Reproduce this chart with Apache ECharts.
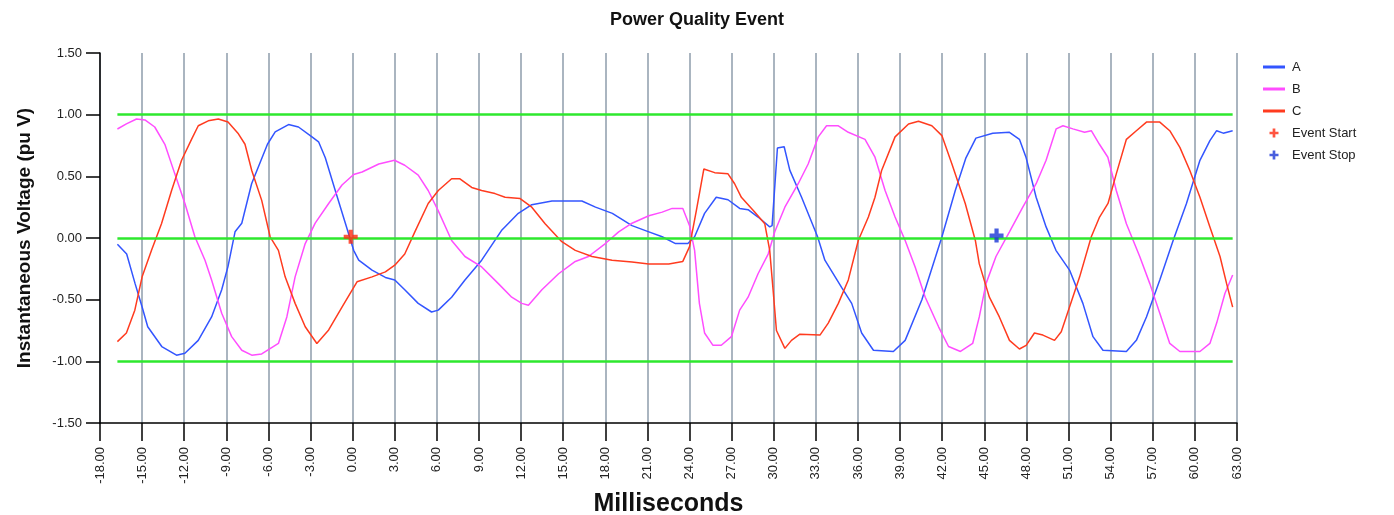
<!DOCTYPE html>
<html>
<head>
<meta charset="utf-8">
<title>Power Quality Event</title>
<script src="https://cdn.jsdelivr.net/npm/echarts@6/dist/echarts.min.js"></script>
<style>
  html, body { margin: 0; padding: 0; background: #fff; }
  #chart { width: 1394px; height: 515px; }
</style>
</head>
<body>
<div id="chart"></div>
<script>
// [milliseconds, pu V]
const phaseA = [
  [-16.76, -0.05], [-16.1, -0.13], [-15.5, -0.37], [-15, -0.56], [-14.6, -0.72], [-13.6, -0.88],
  [-12.55, -0.95], [-11.95, -0.935], [-11, -0.83], [-10.05, -0.64], [-9.33, -0.42], [-8.88, -0.23],
  [-8.38, 0.05], [-7.9, 0.12], [-7.2, 0.44], [-6.07, 0.76], [-5.52, 0.86], [-4.57, 0.92],
  [-3.86, 0.9], [-2.9, 0.82], [-2.43, 0.78], [-1.95, 0.65], [-1.24, 0.385], [-0.52, 0.12],
  [0.07, -0.1], [0.43, -0.18], [1.38, -0.26], [2.33, -0.32], [3, -0.34], [3.71, -0.42],
  [4.67, -0.53], [5.62, -0.6], [6.1, -0.585], [7.05, -0.48], [8, -0.34], [9.19, -0.18],
  [10.6, 0.06], [11.8, 0.2], [12.76, 0.27], [14.2, 0.3], [16.33, 0.3], [17.3, 0.25],
  [18.5, 0.2], [19.9, 0.1], [21.1, 0.05], [22.05, 0.01], [23, -0.045], [23.88, -0.045],
  [24.36, 0.01], [25.07, 0.2], [25.9, 0.33], [26.74, 0.31], [27.57, 0.24], [28.17, 0.23],
  [28.88, 0.17], [29.71, 0.09], [29.88, 0.1], [30.26, 0.73], [30.74, 0.74], [31.14, 0.55],
  [31.98, 0.33], [33.12, 0.01], [33.64, -0.18], [34.83, -0.4], [35.55, -0.53], [36.26, -0.77],
  [37.1, -0.91], [38.52, -0.92], [39.36, -0.83], [40.55, -0.5], [41.98, 0.01], [42.93, 0.385],
  [43.69, 0.65], [44.4, 0.81], [45.6, 0.85], [46.79, 0.857], [47.5, 0.8], [47.98, 0.65],
  [48.69, 0.33], [49.4, 0.09], [50.1, -0.1], [51.07, -0.26], [52.02, -0.53], [52.74, -0.8],
  [53.45, -0.91], [55.12, -0.92], [55.83, -0.83], [56.55, -0.64], [57.5, -0.34], [58.45, -0.02],
  [59.4, 0.28], [60.36, 0.63], [61.07, 0.79], [61.55, 0.87], [62.02, 0.85], [62.69, 0.87]
];

const phaseB = [
  [-16.76, 0.884], [-16.12, 0.925], [-15.4, 0.965], [-14.8, 0.957], [-14.1, 0.9], [-13.38, 0.76],
  [-12.67, 0.52], [-11.95, 0.28], [-11.24, 0.01], [-10.52, -0.18], [-10.05, -0.34], [-9.33, -0.61],
  [-8.62, -0.8], [-7.9, -0.91], [-7.19, -0.95], [-6.48, -0.94], [-5.29, -0.855], [-4.69, -0.64],
  [-4.1, -0.315], [-3.38, -0.045], [-2.67, 0.12], [-1.71, 0.28], [-0.76, 0.43], [0.07, 0.515],
  [0.67, 0.535], [1.86, 0.6], [2.98, 0.63], [3.71, 0.59], [4.67, 0.51], [5.38, 0.385],
  [6.1, 0.22], [7.05, -0.02], [8, -0.15], [9.19, -0.235], [10.38, -0.37], [11.33, -0.48],
  [12.05, -0.53], [12.52, -0.545], [13.48, -0.42], [14.67, -0.29], [15.86, -0.19], [16.8, -0.15],
  [18, -0.045], [18.95, 0.05], [19.9, 0.12], [21.1, 0.18], [22.05, 0.21], [22.76, 0.24],
  [23.52, 0.24], [24, 0.1], [24.36, -0.1], [24.7, -0.53], [25.07, -0.77], [25.67, -0.87],
  [26.26, -0.87], [26.98, -0.8], [27.57, -0.585], [28.17, -0.48], [28.88, -0.29], [29.6, -0.13],
  [30.07, 0.05], [30.79, 0.25], [31.74, 0.44], [32.45, 0.6], [33.17, 0.82], [33.76, 0.91],
  [34.6, 0.91], [35.31, 0.857], [36.5, 0.8], [37.21, 0.655], [37.93, 0.385], [38.64, 0.17],
  [39.36, -0.02], [40.07, -0.235], [40.79, -0.48], [41.74, -0.72], [42.45, -0.88], [43.3, -0.92],
  [44.17, -0.855], [44.64, -0.64], [45.12, -0.37], [45.83, -0.15], [46.79, 0.05], [47.74, 0.25],
  [48.69, 0.44], [49.4, 0.63], [50.12, 0.885], [50.6, 0.91], [51.31, 0.885], [52.14, 0.857],
  [52.62, 0.87], [53.2, 0.76], [53.8, 0.655], [54.4, 0.385], [55.12, 0.115], [56.07, -0.15],
  [56.79, -0.37], [57.5, -0.61], [58.21, -0.855], [58.93, -0.92], [60.36, -0.92], [61.07, -0.855],
  [61.55, -0.69], [62.14, -0.45], [62.69, -0.3]
];

const phaseC = [
  [-16.76, -0.84], [-16.12, -0.77], [-15.52, -0.585], [-15, -0.315], [-14.33, -0.1], [-13.62, 0.115],
  [-12.9, 0.385], [-12.19, 0.63], [-11.48, 0.8], [-11, 0.91], [-10.29, 0.95], [-9.57, 0.965],
  [-8.88, 0.94], [-8.14, 0.845], [-7.67, 0.76], [-7.19, 0.547], [-6.48, 0.305], [-5.88, 0.01],
  [-5.29, -0.1], [-4.81, -0.315], [-4.1, -0.53], [-3.38, -0.72], [-2.55, -0.855], [-1.71, -0.745],
  [-0.76, -0.56], [0.31, -0.355], [1.38, -0.315], [2.33, -0.275], [3, -0.22], [3.71, -0.13],
  [4.43, 0.05], [5.38, 0.28], [6.1, 0.385], [7.05, 0.48], [7.64, 0.48], [8.48, 0.41],
  [9.19, 0.385], [10.14, 0.36], [10.86, 0.33], [11.93, 0.32], [12.76, 0.25], [13.71, 0.115],
  [14.9, -0.03], [15.86, -0.1], [17.05, -0.15], [18.48, -0.18], [19.9, -0.195], [21.1, -0.21],
  [22.52, -0.21], [23.52, -0.19], [24, -0.07], [24.48, 0.22], [25.02, 0.56], [25.79, 0.53],
  [26.74, 0.52], [27.21, 0.44], [27.69, 0.33], [28.64, 0.21], [29.36, 0.115], [29.71, -0.1],
  [29.95, -0.42], [30.19, -0.75], [30.79, -0.895], [31.26, -0.83], [31.86, -0.78], [33.29, -0.787],
  [33.88, -0.69], [34.6, -0.53], [35.31, -0.34], [36.02, -0.02], [36.74, 0.17], [37.21, 0.33],
  [37.69, 0.55], [38.64, 0.82], [39.6, 0.925], [40.31, 0.946], [41.26, 0.91], [41.98, 0.83],
  [42.69, 0.6], [43.64, 0.28], [44.36, -0.02], [44.64, -0.21], [45.36, -0.48], [46.07, -0.64],
  [46.79, -0.83], [47.5, -0.9], [47.98, -0.87], [48.57, -0.77], [49.17, -0.787], [50, -0.83],
  [50.48, -0.76], [51.07, -0.56], [51.79, -0.315], [52.62, 0.01], [53.21, 0.17], [53.81, 0.28],
  [54.4, 0.52], [55.12, 0.8], [55.83, 0.87], [56.55, 0.94], [57.5, 0.94], [58.21, 0.87],
  [58.93, 0.735], [59.64, 0.547], [60.36, 0.33], [61.07, 0.09], [61.79, -0.15], [62.26, -0.37],
  [62.69, -0.56]
];

const eventStart = [[-0.14, 0.01]];
const eventStop = [[45.87, 0.02]];

const limitLevels = [1, 0, -1];
const xRange = { min: -18, max: 63, step: 3 };
const yRange = { min: -1.5, max: 1.5, step: 0.5 };

const FONT = '"Liberation Sans", Arial, sans-serif';
const crossPath = 'path://M3.5,0 H6.5 V3.5 H10 V6.5 H6.5 V10 H3.5 V6.5 H0 V3.5 H3.5 Z';
const dashPath = 'path://M0,0 H22 V3 H0 Z';

const chart = echarts.init(document.getElementById('chart'), null, { renderer: 'canvas' });

const dataStart = phaseA[0][0];
const dataEnd = phaseA[phaseA.length - 1][0];
const limitLines = limitLevels.map((v) => [
  { coord: [dataStart, v] },
  { coord: [dataEnd, v] },
]);

const lineSeries = (name, data, color) => ({
  name: name,
  type: 'line',
  data: data,
  showSymbol: false,
  symbol: 'none',
  smooth: false,
  lineStyle: { color: color, width: 1.5 },
  itemStyle: { color: color },
  z: 3,
});

const option = {
  animation: false,
  backgroundColor: '#ffffff',
  textStyle: { fontFamily: FONT },
  title: {
    text: 'Power Quality Event',
    left: 'center',
    top: 6,
    textStyle: { fontFamily: FONT, fontSize: 18, fontWeight: 'bold', color: '#111' },
  },
  legend: {
    orient: 'vertical',
    left: 1258,
    top: 55,
    itemWidth: 22,
    itemHeight: 9,
    itemGap: 8,
    data: [
      { name: 'A', icon: dashPath },
      { name: 'B', icon: dashPath },
      { name: 'C', icon: dashPath },
      { name: 'Event Start', icon: crossPath },
      { name: 'Event Stop', icon: crossPath },
    ],
    textStyle: { fontFamily: FONT, fontSize: 13, color: '#222', lineHeight: 14, padding: [0, 0, 0, 2] },
  },
  grid: {
    left: 100,
    right: 157,
    top: 53,
    bottom: 92,
    containLabel: false,
    outerBoundsMode: 'none',
  },
  xAxis: {
    type: 'value',
    min: xRange.min,
    max: xRange.max,
    interval: xRange.step,
    name: 'Milliseconds',
    nameLocation: 'middle',
    nameGap: 67,
    nameTextStyle: { fontFamily: FONT, fontSize: 25, fontWeight: 'bold', color: '#111' },
    axisLine: { show: true, onZero: false, lineStyle: { color: '#000', width: 1.5 } },
    axisTick: { show: true, length: 18, lineStyle: { color: '#000', width: 1.5 } },
    axisLabel: {
      rotate: 90,
      margin: 24,
      fontSize: 13,
      color: '#222',
      fontFamily: FONT,
      formatter: (v) => v.toFixed(2),
    },
    splitLine: { show: true, lineStyle: { color: '#8e9cab', width: 1.5 } },
  },
  yAxis: {
    type: 'value',
    min: yRange.min,
    max: yRange.max,
    interval: yRange.step,
    name: 'Instantaneous Voltage (pu V)',
    nameLocation: 'middle',
    nameGap: 66,
    nameRotate: 90,
    nameTextStyle: { fontFamily: FONT, fontSize: 19, fontWeight: 'bold', color: '#111' },
    axisLine: { show: true, onZero: false, lineStyle: { color: '#000', width: 1.5 } },
    axisTick: { show: true, length: 14, lineStyle: { color: '#000', width: 1.5 } },
    axisLabel: {
      margin: 18,
      fontSize: 13,
      color: '#222',
      fontFamily: FONT,
      formatter: (v) => v.toFixed(2),
    },
    splitLine: { show: false },
  },
  series: [
    {
      name: 'limits',
      type: 'line',
      data: [],
      z: 2,
      markLine: {
        silent: true,
        symbol: 'none',
        label: { show: false },
        lineStyle: { color: '#2ee82e', width: 2.5, type: 'solid' },
        data: limitLines,
      },
    },
    lineSeries('A', phaseA, '#3355ff'),
    lineSeries('B', phaseB, '#ff4dff'),
    lineSeries('C', phaseC, '#ff3b1f'),
    {
      name: 'Event Start',
      type: 'scatter',
      data: eventStart,
      symbol: crossPath,
      symbolSize: 14,
      itemStyle: { color: '#ff2a10' },
      z: 5,
    },
    {
      name: 'Event Stop',
      type: 'scatter',
      data: eventStop,
      symbol: crossPath,
      symbolSize: 14,
      itemStyle: { color: '#1a36d6' },
      z: 5,
    },
  ],
};

chart.setOption(option);
</script>
</body>
</html>
